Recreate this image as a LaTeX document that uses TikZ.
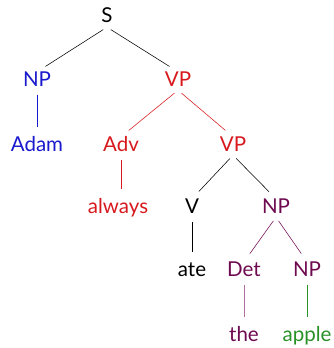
\documentclass[tikz,border=0pt]{standalone}
\usepackage{fontspec}
\setmainfont{Lato}
\definecolor{blueC}{RGB}{25,25,205}
\definecolor{redC}{RGB}{215,25,30}
\definecolor{purpC}{RGB}{110,10,80}
\definecolor{lpurpC}{RGB}{175,110,160}
\definecolor{greenC}{RGB}{40,145,40}
\begin{document}
\begin{tikzpicture}[x=1pt,y=-1pt,
  lab/.style={anchor=base,inner sep=0pt,text height=14pt,text depth=4pt,font=\fontsize{20.5}{24}\selectfont},
  br/.style={line width=0.55pt,shorten <=4.5pt,shorten >=10pt}]
\useasboundingbox (0,0) rectangle (334,348);
\node[lab] (S) at (107,23) {S};
\node[lab,text=blueC] (NP) at (37,86) {NP};
\node[lab,text=redC] (VP) at (178,86) {VP};
\node[lab,text=blueC] (Adam) at (37,151) {Adam};
\node[lab,text=redC] (Adv) at (121,151) {Adv};
\node[lab,text=redC] (VP2) at (233,151) {VP};
\node[lab,text=redC] (always) at (118,213) {always};
\node[lab] (V) at (192,213) {V};
\node[lab,text=purpC] (NP2) at (276,213) {NP};
\node[lab] (ate) at (192,276) {ate};
\node[lab,text=purpC] (Det) at (244,276) {Det};
\node[lab,text=purpC] (NP3) at (307,276) {NP};
\node[lab,text=purpC] (the) at (244,341) {the};
\node[lab,text=greenC] (apple) at (307,341) {apple};
\draw[br] (S.south) -- (NP.north);
\draw[br] (S.south) -- (VP.north);
\draw[br,blueC] (NP.south) -- (Adam.north);
\draw[br,redC] (VP.south) -- (Adv.north);
\draw[br,redC] (VP.south) -- (VP2.north);
\draw[br,redC] (Adv.south) -- (Adv.south |- always.north);
\draw[br] (VP2.south) -- (V.north);
\draw[br] (VP2.south) -- (NP2.north);
\draw[br] (V.south) -- (ate.north);
\draw[br,purpC] (NP2.south) -- (Det.north);
\draw[br,purpC] (NP2.south) -- (NP3.north);
\draw[br,lpurpC] (Det.south) -- (the.north);
\draw[br,greenC] (NP3.south) -- (apple.north);
\end{tikzpicture}
\end{document}
